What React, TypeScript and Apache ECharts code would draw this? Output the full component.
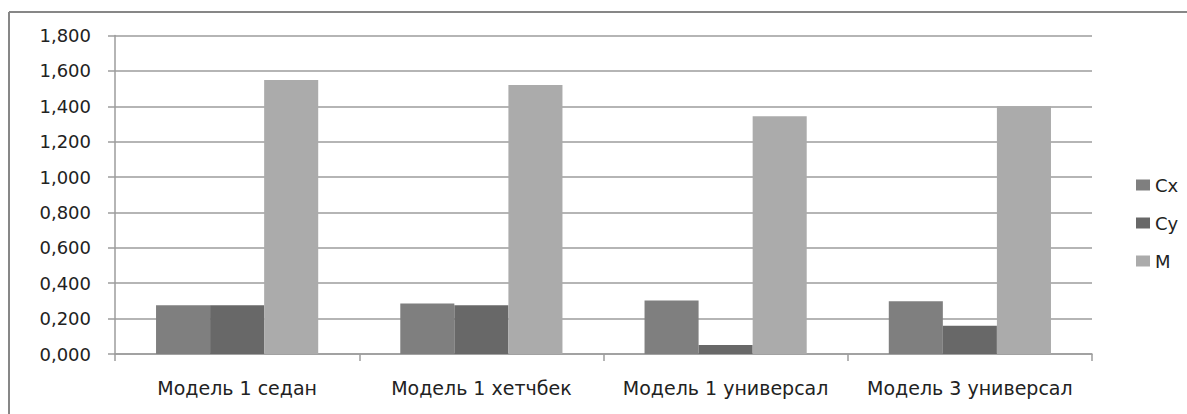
import React, { useEffect, useRef } from "react";
import * as echarts from "echarts";

const categories = ["Модель 1 седан", "Модель 1 хетчбек", "Модель 1 универсал", "Модель 3 универсал"];
const cxValues = [0.275, 0.286, 0.303, 0.298];
const cyValues = [0.275, 0.275, 0.051, 0.160];
const mValues = [1.548, 1.520, 1.343, 1.400];
const seriesNames = ["Cx", "Cy", "M"];
const seriesColors = ["#7f7f7f", "#686868", "#ababab"];

const FONT = "DejaVu Sans";

export default function App() {
  const ref = useRef<HTMLDivElement>(null);
  useEffect(() => {
    document.body.style.margin = "0";
    const chart = echarts.init(ref.current!, null, { renderer: "svg" });
    const data = [cxValues, cyValues, mValues];
    chart.setOption({
      animation: false,
      backgroundColor: "#ffffff",
      textStyle: { fontFamily: FONT },
      grid: { left: 115, right: 95, top: 35.5, bottom: 60, containLabel: false },
      legend: {
        orient: "vertical",
        left: 1131,
        top: 169,
        itemWidth: 14,
        itemHeight: 11,
        itemGap: 16,
        icon: "rect",
        textStyle: { fontFamily: FONT, fontSize: 18, color: "#222", lineHeight: 22 },
        data: seriesNames,
      },
      xAxis: {
        type: "category",
        data: categories,
        axisLine: { lineStyle: { color: "#9c9c9c", width: 1.5 } },
        axisTick: { show: true, length: 7, alignWithLabel: false, lineStyle: { color: "#9c9c9c", width: 1.5 } },
        axisLabel: { fontFamily: FONT, fontSize: 19, color: "#222", margin: 24, interval: 0 },
      },
      yAxis: {
        type: "value",
        min: 0,
        max: 1.8,
        interval: 0.2,
        axisLine: { show: true, lineStyle: { color: "#9c9c9c", width: 1.5 } },
        axisTick: { show: true, length: 7, lineStyle: { color: "#9c9c9c", width: 1.5 } },
        splitLine: { lineStyle: { color: "#9c9c9c", width: 1.5 } },
        axisLabel: {
          fontFamily: FONT,
          fontSize: 18,
          color: "#222",
          margin: 24,
          formatter: (v: number) => v.toFixed(3).replace(".", ","),
        },
      },
      series: seriesNames.map((name, i) => ({
        name,
        type: "bar",
        data: data[i],
        barGap: "0%",
        barCategoryGap: "33.6%",
        itemStyle: { color: seriesColors[i] },
      })),
      graphic: [
        { type: "line", shape: { x1: 9, y1: 12, x2: 1187, y2: 12 }, style: { stroke: "#878787", lineWidth: 2 } },
        { type: "line", shape: { x1: 9, y1: 12, x2: 9, y2: 414 }, style: { stroke: "#878787", lineWidth: 2 } },
      ],
    });
    return () => chart.dispose();
  }, []);
  return <div ref={ref} style={{ width: 1187, height: 414 }} />;
}
